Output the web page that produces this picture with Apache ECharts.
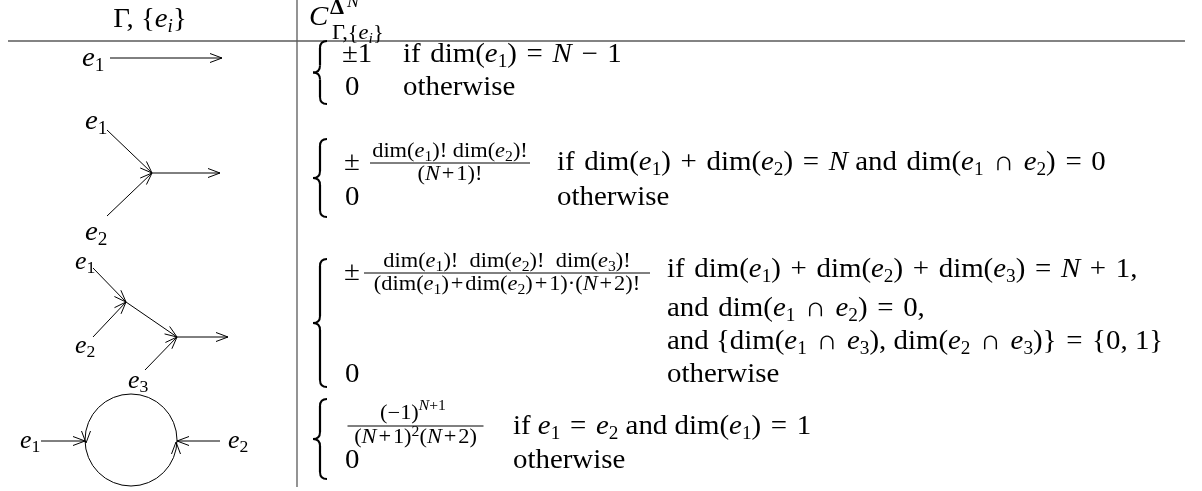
<!DOCTYPE html>
<html>
<head>
<meta charset="utf-8">
<title>C coefficients</title>
<script src="https://cdn.jsdelivr.net/npm/echarts@6.0.0/dist/echarts.min.js"></script>
<style>
html, body { margin: 0; padding: 0; background: #fff; }
#chart { width: 1202px; height: 491px; }
</style>
</head>
<body>
<div id="chart"></div>
<script>
// hair space, used to get closer to TeX math spacing
const H = '\u200A'
const op = function(s) {
    return s.replace(/ ([=+∩−]) /g, ' ' + H + '$1' + H + ' ')
}
const opSmall = function(s) {
    return s.replace(/\+/g, H + '+' + H)
}

// ---- table content ----
const headerTexts = ['Γ, {{it|e}{sbi|i}}', '{it|C}', '{bf|Δ}', '{it|N}', 'Γ,{{it|e}{sbi|i}}']
const edgeLabels = [
    '{it|e}{sb|1}',
    '{it|e}{sb|1}', '{it|e}{sb|2}',
    '{it|e}{sb|1}', '{it|e}{sb|2}', '{it|e}{sb|3}',
    '{it|e}{sb|1}', '{it|e}{sb|2}',
]
const caseValues = ['±1', '0', '±', '0', '±', '0', '0']
const caseFractions = [
    'dim({it|e}{sb|1})! dim({it|e}{sb|2})!', opSmall('({it|N}+1)!'),
    'dim({it|e}{sb|1})!  dim({it|e}{sb|2})!  dim({it|e}{sb|3})!', opSmall('(dim({it|e}{sb|1})+dim({it|e}{sb|2})+1)·({it|N}+2)!'),
    '(−1){spi|N}{sp|+1}', opSmall('({it|N}+1){sp|2}({it|N}+2)'),
]
const caseConditions = [
    op('if ' + H + 'dim({it|e}{sb|1}) = {it|N} − 1'),
    'otherwise',
    op('if ' + H + 'dim({it|e}{sb|1}) + dim({it|e}{sb|2}) = {it|N} and ' + H + 'dim({it|e}{sb|1} ∩ {it|e}{sb|2}) = 0'),
    'otherwise',
    op('if ' + H + 'dim({it|e}{sb|1}) + dim({it|e}{sb|2}) + dim({it|e}{sb|3}) = {it|N} + 1,'),
    op('and ' + H + 'dim({it|e}{sb|1} ∩ {it|e}{sb|2}) = 0,'),
    op('and {dim({it|e}{sb|1} ∩ {it|e}{sb|3}), dim({it|e}{sb|2} ∩ {it|e}{sb|3})} = {0, 1}'),
    'otherwise',
    op('if {it|e}{sb|1} = {it|e}{sb|2} and dim({it|e}{sb|1}) = 1'),
    'otherwise',
]

// ---- graph drawings (page units, y down) ----
// edges [x1, y1, x2, y2], arrow at the second point
const graphEdges = [
    [110, 58, 222, 58],
    [107, 130, 152, 173], [107, 216, 152, 173], [152, 173, 220, 173],
    [93, 268, 126, 302], [93, 337, 126, 302], [126, 302, 177, 337], [145, 370, 177, 337], [177, 337, 228, 337],
    [41, 441, 85, 441], [220, 441, 177, 441],
]
const loopCircle = [[131, 440, 46]]
// [x, y, dx, dy] arrow tips on the loop
const loopArrows = [[86, 443, 0, 1], [176, 442, 0, -1]]

// ---- layout ----
const tableRules = [[8, 41, 1185, 41], [297, 0, 297, 487]]
const braces = [[313, 41, 104], [313, 139, 217], [313, 259, 387], [313, 399, 479]]
// [centre x, bar y, half width]
const fractionBars = [[450, 163, 80], [507, 273, 143], [415.5, 426, 68]]

// [x, y, align, font set]
const headerLayout = [[150, 20, 'center', 'big'], [309, 18, 'left', 'big'], [330, 9, 'left', 'sm'], [347, 3, 'left', 'tiny'], [332, 34, 'left', 'sm']]
const labelLayout = [
    [82, 59, 'left', 'big'],
    [85, 122, 'left', 'big'], [85, 233, 'left', 'big'],
    [75, 262, 'left', 'lab'], [75, 346, 'left', 'lab'], [128, 381, 'left', 'lab'],
    [20, 441, 'left', 'lab'], [228, 441, 'left', 'lab'],
]
const valueLayout = [[342, 55, 'left', 'big'], [345, 88, 'left', 'big'], [344, 163, 'left', 'big'], [345, 198, 'left', 'big'],
    [344, 273, 'left', 'big'], [345, 375, 'left', 'big'], [345, 461, 'left', 'big']]
const fractionLayout = [
    [450, 152, 'center', 'sm'], [450, 175, 'center', 'sm'],
    [507, 262, 'center', 'sm'], [507, 285, 'center', 'sm'],
    [413, 414, 'center', 'smHi'], [415.5, 438, 'center', 'sm'],
]
const conditionLayout = [
    [403, 55, 'left', 'big'], [403, 88, 'left', 'big'],
    [557, 163, 'left', 'big'], [557, 198, 'left', 'big'],
    [667, 270, 'left', 'big'], [667, 309, 'left', 'big'], [667, 342, 'left', 'big'], [667, 375, 'left', 'big'],
    [513, 427, 'left', 'big'], [513, 461, 'left', 'big'],
]

const SERIF = '"Liberation Serif", "DejaVu Serif", serif'
const makeSet = function(size, lh, sub, scale) {
    return {
        font: size + 'px ' + SERIF,
        lh: lh,
        scale: scale,
        rich: {
            it: { font: 'italic ' + size + 'px ' + SERIF },
            bf: { font: 'bold ' + size + 'px ' + SERIF },
            sb: { font: sub + 'px ' + SERIF, verticalAlign: 'bottom', lineHeight: sub },
            sbi: { font: 'italic ' + sub + 'px ' + SERIF, verticalAlign: 'bottom', lineHeight: sub },
            sp: { font: sub + 'px ' + SERIF, verticalAlign: 'top', lineHeight: sub },
            spi: { font: 'italic ' + sub + 'px ' + SERIF, verticalAlign: 'top', lineHeight: sub },
        },
    }
}
const fontSets = {
    big: makeSet(27, 32, 18, 1.07),
    lab: makeSet(25, 30, 17, 1.04),
    sm: makeSet(20, 25, 14, 1.12),
    smHi: makeSet(20, 30, 14, 1.12),
    tiny: makeSet(17, 18, 11, 1.05),
}

const seg = function(a, b, width, color) {
    return {
        type: 'line',
        shape: { x1: a[0], y1: a[1], x2: b[0], y2: b[1] },
        style: { stroke: color || '#000', lineWidth: width || 1 },
    }
}

const chevron = function(tip, dx, dy) {
    const len = 12
    const half = 4.5
    const bx = tip[0] - dx * len
    const by = tip[1] - dy * len
    const nx = -dy
    const ny = dx
    return {
        type: 'polyline',
        shape: { points: [[bx + nx * half, by + ny * half], tip, [bx - nx * half, by - ny * half]] },
        style: { stroke: '#000', fill: null, lineWidth: 1 },
    }
}

const textSeries = function(name, texts, layout) {
    return {
        type: 'custom',
        name: name,
        silent: true,
        data: layout.map((l, i) => [l[0], l[1], i]),
        renderItem: function(params, api) {
            const i = api.value(2)
            const p = api.coord([api.value(0), api.value(1)])
            const l = layout[i]
            const f = fontSets[l[3]]
            return {
                type: 'text',
                x: p[0],
                y: p[1],
                scaleX: f.scale,
                style: {
                    text: texts[i],
                    font: f.font,
                    fill: '#000',
                    align: l[2],
                    verticalAlign: 'middle',
                    lineHeight: f.lh,
                    rich: f.rich,
                },
            }
        },
    }
}

const option = {
    animation: false,
    backgroundColor: '#fff',
    grid: { left: 0, right: 0, top: 0, bottom: 0 },
    xAxis: { type: 'value', min: 0, max: 1202, show: false },
    yAxis: { type: 'value', min: 0, max: 491, inverse: true, show: false },
    series: [
        {
            type: 'custom',
            name: 'rules',
            silent: true,
            data: tableRules,
            renderItem: function(params, api) {
                const a = api.coord([api.value(0), api.value(1)])
                const b = api.coord([api.value(2), api.value(3)])
                return seg(a, b, 1.3, '#5a5a5a')
            },
        },
        {
            type: 'custom',
            name: 'braces',
            silent: true,
            data: braces,
            renderItem: function(params, api) {
                const t = api.coord([api.value(0), api.value(1)])
                const b = api.coord([api.value(0), api.value(2)])
                const x0 = t[0]
                const w = 7
                const xm = x0 + w
                const x1 = x0 + 2 * w
                const top = t[1]
                const bot = b[1]
                const mid = (top + bot) / 2
                const st = { stroke: '#000', lineWidth: 2, fill: null }
                const q = function(p1, c, p2) {
                    return { type: 'bezierCurve', shape: { x1: p1[0], y1: p1[1], cpx1: c[0], cpy1: c[1], x2: p2[0], y2: p2[1] }, style: st }
                }
                return {
                    type: 'group',
                    children: [
                        q([x1, top], [xm, top], [xm, top + w]),
                        seg([xm, top + w], [xm, mid - w], 2.2),
                        q([xm, mid - w], [xm, mid], [x0, mid]),
                        q([x0, mid], [xm, mid], [xm, mid + w]),
                        seg([xm, mid + w], [xm, bot - w], 2.2),
                        q([xm, bot - w], [xm, bot], [x1, bot]),
                    ],
                }
            },
        },
        {
            type: 'custom',
            name: 'fraction bars',
            silent: true,
            data: fractionBars,
            renderItem: function(params, api) {
                const c = api.coord([api.value(0), api.value(1)])
                const h = api.size([api.value(2), 0])[0]
                return seg([c[0] - h, c[1]], [c[0] + h, c[1]], 1)
            },
        },
        {
            type: 'custom',
            name: 'edges',
            silent: true,
            data: graphEdges,
            renderItem: function(params, api) {
                const a = api.coord([api.value(0), api.value(1)])
                const b = api.coord([api.value(2), api.value(3)])
                const len = Math.hypot(b[0] - a[0], b[1] - a[1])
                const dx = (b[0] - a[0]) / len
                const dy = (b[1] - a[1]) / len
                return { type: 'group', children: [seg(a, b, 1), chevron(b, dx, dy)] }
            },
        },
        {
            type: 'custom',
            name: 'loop',
            silent: true,
            data: loopCircle,
            renderItem: function(params, api) {
                const c = api.coord([api.value(0), api.value(1)])
                const r = api.size([api.value(2), 0])[0]
                return { type: 'circle', shape: { cx: c[0], cy: c[1], r: r }, style: { stroke: '#000', fill: null, lineWidth: 1 } }
            },
        },
        {
            type: 'custom',
            name: 'loop arrows',
            silent: true,
            data: loopArrows,
            renderItem: function(params, api) {
                const p = api.coord([api.value(0), api.value(1)])
                return chevron(p, api.value(2), api.value(3))
            },
        },
        textSeries('header', headerTexts, headerLayout),
        textSeries('edge labels', edgeLabels, labelLayout),
        textSeries('values', caseValues, valueLayout),
        textSeries('fractions', caseFractions, fractionLayout),
        textSeries('conditions', caseConditions, conditionLayout),
    ],
}

const chart = echarts.init(document.getElementById('chart'))
chart.setOption(option)
</script>
</body>
</html>
